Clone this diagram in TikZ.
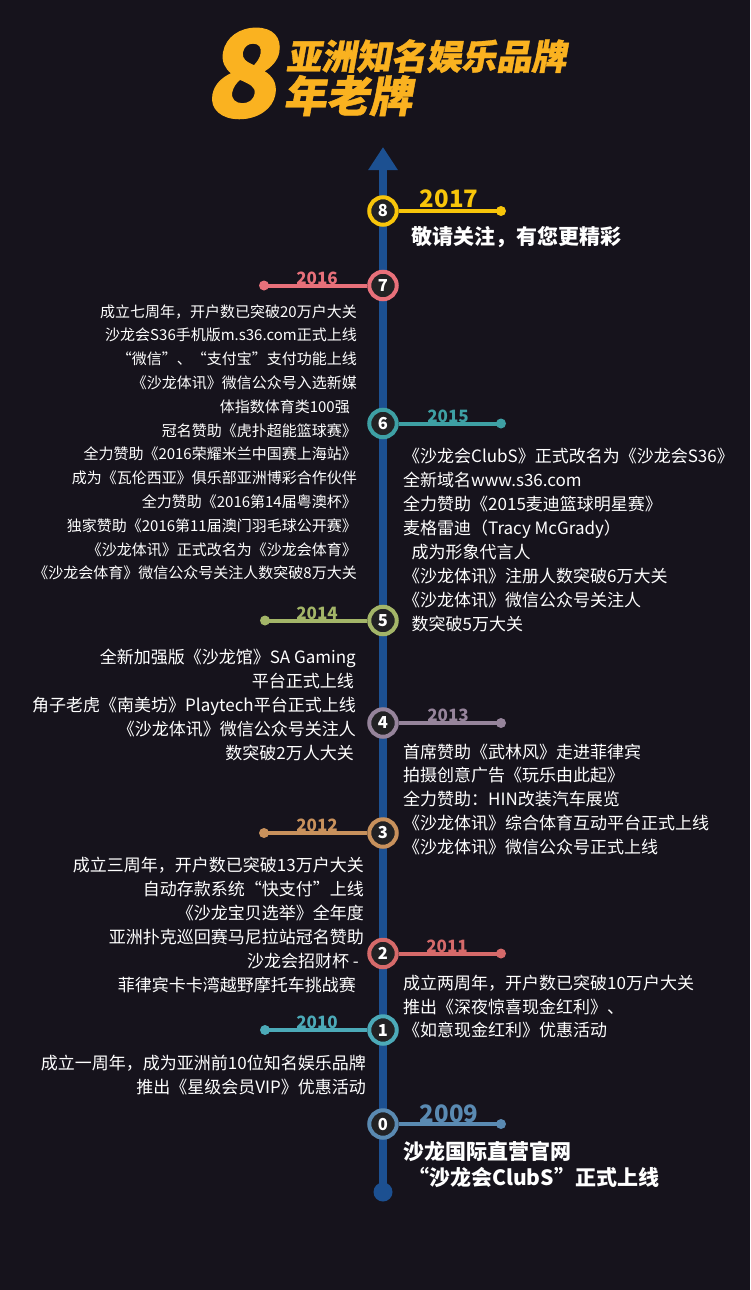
\documentclass[tikz,border=0pt]{standalone}
\usepackage{fontspec}
\usetikzlibrary{arrows.meta}
\newfontfamily\cjk{Noto Sans CJK SC}
\newfontfamily\cjkt[FakeSlant=0.18,FakeBold=1]{Noto Sans CJK SC}
\definecolor{bg}{RGB}{22,19,28}
\definecolor{axisc}{RGB}{28,80,145}
\definecolor{dotc}{RGB}{34,34,36}
\definecolor{c8}{RGB}{247,197,10}
\definecolor{c7}{RGB}{232,112,122}
\definecolor{c6}{RGB}{62,160,164}
\definecolor{c5}{RGB}{163,181,104}
\definecolor{c4}{RGB}{150,132,155}
\definecolor{c3}{RGB}{200,145,92}
\definecolor{c2}{RGB}{214,106,106}
\definecolor{c1}{RGB}{76,170,184}
\definecolor{c0}{RGB}{90,138,178}
\definecolor{ttl}{RGB}{250,178,32}
\tikzset{
  ms/.style={circle, draw=#1, line width=4pt, fill=dotc, minimum size=27.5pt, inner sep=0pt,
    text=white, font=\cjk\bfseries\fontsize{16.5}{16.5}\selectfont},
  br/.style={draw=#1, line width=4pt},
  yr/.style={text=#1, anchor=base, inner sep=0pt, font=\cjk\bfseries\fontsize{17}{17}\selectfont},
  yrbig/.style={text=#1, anchor=base, inner sep=0pt, font=\cjk\bfseries\fontsize{24}{24}\selectfont},
  rs/.style={text=white, anchor=base east, inner sep=0pt, font=\cjk\fontsize{17}{17}\selectfont},
  ls/.style={text=white, anchor=base west, inner sep=0pt, font=\cjk\fontsize{17}{17}\selectfont},
  rsmall/.style={text=white, anchor=base east, inner sep=0pt, font=\cjk\fontsize{15}{15}\selectfont},
  lbold/.style={text=white, anchor=base west, inner sep=0pt, font=\cjk\bfseries\fontsize{21}{21}\selectfont},
  ttext/.style={text=ttl, anchor=base west, inner sep=0pt}
}
\begin{document}
\begin{tikzpicture}[x=1pt,y=-1pt]
\fill[bg] (0,0) rectangle (750,1290);
\useasboundingbox (0,0) rectangle (750,1290);
% title
\node[ttext, font=\cjkt\bfseries\fontsize{120}{120}\selectfont] (eight) at (203,117) {8};
\node[ttext, font=\cjkt\bfseries\fontsize{35}{35}\selectfont] (title1) at (286,69.5) {亚洲知名娱乐品牌};
\node[ttext, font=\cjkt\bfseries\fontsize{43}{43}\selectfont] (title2) at (283,112) {年老牌};
% axis
\coordinate (axbot) at (383,1192);
\coordinate (axtip) at (383,147);
\draw[line width=7.5pt, axisc, -{Triangle[width=28pt,length=23pt]}] (axbot) -- (axtip);
\fill[axisc] (axbot) circle (9.5);
% milestones
\foreach \n/\y/\ex/\c in {8/211/501/c8, 7/285.5/264/c7, 6/423.5/501/c6, 5/620.5/265/c5,
    4/723/501/c4, 3/833/264/c3, 2/953.5/501/c2, 1/1030/265/c1, 0/1124/501/c0}{
  \node[ms=\c] (m\n) at (383,\y) {\n};
  \coordinate (e\n) at (\ex,\y);
  \draw[br=\c] (m\n) -- (e\n);
  \fill[\c] (e\n) circle (5);
}
% year labels
\node[yrbig=c8] (y17) at (449,207.5) {2017};
\node[yr=c7] (y16) at (317,284) {2016};
\node[yr=c6] (y15) at (448,422) {2015};
\node[yr=c5] (y14) at (317,619) {2014};
\node[yr=c4] (y13) at (448,721.5) {2013};
\node[yr=c3] (y12) at (317,831.5) {2012};
\node[yr=c2] (y11) at (447,952) {2011};
\node[yr=c1] (y10) at (317,1028.5) {2010};
\node[yrbig=c0] (y09) at (449,1122.5) {2009};
% 2017
\node[lbold] (t17) at (411,244.7) {敬请关注，有您更精彩};
% 2016
\foreach \x/\t [count=\i] in {357/成立七周年，开户数已突破20万户大关,
  357/沙龙会S36手机版m.s36.com正式上线,
  357/“微信”、“支付宝”支付功能上线,
  357/《沙龙体讯》微信公众号入选新媒,
  350/体指数体育类100强,
  357/冠名赞助《虎扑超能篮球赛》,
  357/全力赞助《2016荣耀米兰中国赛上海站》,
  357/成为《瓦伦西亚》俱乐部亚洲博彩合作伙伴,
  357/全力赞助《2016第14届粤澳杯》,
  357/独家赞助《2016第11届澳门羽毛球公开赛》,
  357/《沙龙体讯》正式改名为《沙龙会体育》,
  357/《沙龙会体育》微信公众号关注人数突破8万大关}{
  \node[rsmall] (t16-\i) at (\x,{317.1+23.8*(\i-1)}) {\t};
}
% 2015
\foreach \x/\t [count=\i] in {403/《沙龙会ClubS》正式改名为《沙龙会S36》,
  403/全新域名www.s36.com,
  403/全力赞助《2015麦迪篮球明星赛》,
  403/麦格雷迪（Tracy McGrady）,
  411.5/成为形象代言人,
  403/《沙龙体讯》注册人数突破6万大关,
  403/《沙龙体讯》微信公众号关注人,
  411.5/数突破5万大关}{
  \node[ls] (t15-\i) at (\x,{462.8+23.9*(\i-1)}) {\t};
}
% 2014
\foreach \x/\t [count=\i] in {356/全新加强版《沙龙馆》SA Gaming,
  354/平台正式上线,
  356/角子老虎《南美坊》Playtech平台正式上线,
  356/《沙龙体讯》微信公众号关注人,
  354/数突破2万人大关}{
  \node[rs] (t14-\i) at (\x,{663+24.2*(\i-1)}) {\t};
}
% 2013
\foreach \t [count=\i] in {首席赞助《武林风》走进菲律宾,
  拍摄创意广告《玩乐由此起》,
  全力赞助：HIN改装汽车展览,
  《沙龙体讯》综合体育互动平台正式上线,
  《沙龙体讯》微信公众号正式上线}{
  \node[ls] (t13-\i) at (403,{758+23.75*(\i-1)}) {\t};
}
% 2012
\foreach \x/\t [count=\i] in {364/成立三周年，开户数已突破13万户大关,
  364/自动存款系统“快支付”上线,
  364/《沙龙宝贝选举》全年度,
  364/亚洲扑克巡回赛马尼拉站冠名赞助,
  359/沙龙会招财杯 -,
  356/菲律宾卡卡湾越野摩托车挑战赛}{
  \node[rs] (t12-\i) at (\x,{871.3+24*(\i-1)}) {\t};
}
% 2011
\foreach \t [count=\i] in {成立两周年，开户数已突破10万户大关,
  推出《深夜惊喜现金红利》、,
  《如意现金红利》优惠活动}{
  \node[ls] (t11-\i) at (403,{989.6+23.5*(\i-1)}) {\t};
}
% 2010
\foreach \t [count=\i] in {成立一周年，成为亚洲前10位知名娱乐品牌,
  推出《星级会员VIP》优惠活动}{
  \node[rs] (t10-\i) at (366,{1069.6+23.4*(\i-1)}) {\t};
}
% 2009
\node[lbold] (t09-1) at (403,1159) {沙龙国际直营官网};
\node[lbold] (t09-2) at (408,1185.3) {“沙龙会ClubS”正式上线};
\end{tikzpicture}
\end{document}
